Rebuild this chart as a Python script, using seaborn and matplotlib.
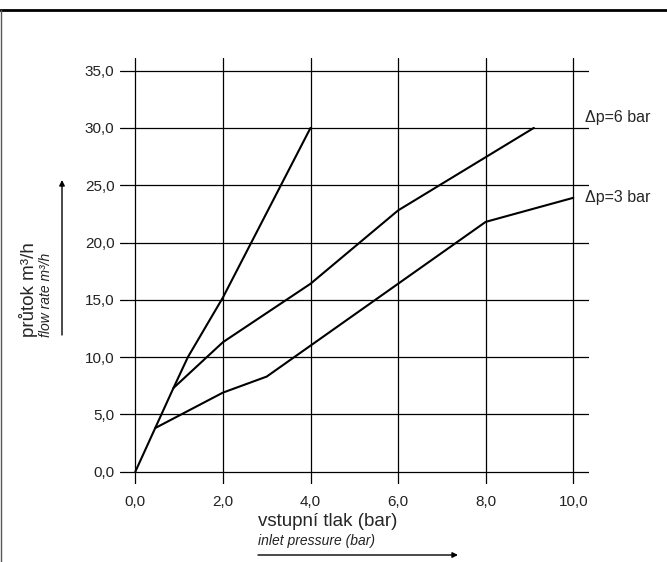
import numpy as np
import pandas as pd
import matplotlib
matplotlib.use('Agg')
import matplotlib.pyplot as plt
from matplotlib.lines import Line2D
import seaborn as sns

# data (inlet pressure in bar, flow rate in m3/h)
steep_p = [0.0, 0.87, 1.2, 2.0, 4.0]
steep_q = [0.0, 7.3, 10.0, 15.2, 30.0]
dp6_p = [0.87, 2.0, 4.0, 6.0, 9.1]
dp6_q = [7.3, 11.3, 16.4, 22.8, 30.0]
dp3_p = [0.45, 2.0, 3.0, 8.0, 10.0]
dp3_q = [3.8, 6.9, 8.3, 21.8, 23.9]
series_labels = ['Δp=6 bar', 'Δp=3 bar']
x_ticks = [0, 2, 4, 6, 8, 10]
y_ticks = [0, 5, 10, 15, 20, 25, 30, 35]

sns.set_style('white')
plt.rcParams['font.family'] = ['Liberation Sans Narrow', 'Liberation Sans', 'DejaVu Sans']

W, H = 667, 562
fig = plt.figure(figsize=(W / 100, H / 100), dpi=100)
ax = fig.add_axes([120 / W, 1 - 484.3 / H, (588.6 - 120) / W, (484.3 - 58) / H])

df = pd.concat([
    pd.DataFrame({'p': steep_p, 'q': steep_q, 'line': 'steep'}),
    pd.DataFrame({'p': dp6_p, 'q': dp6_q, 'line': 'dp6'}),
    pd.DataFrame({'p': dp3_p, 'q': dp3_q, 'line': 'dp3'}),
])
for name, grp in df.groupby('line', sort=False):
    sns.lineplot(data=grp, x='p', y='q', ax=ax, color='black', lw=1.5,
                 sort=False, estimator=None, legend=False)

ax.set_xlim(-0.35, 10.35)
ax.set_ylim(-1.1, 36.1)
ax.set_xticks(x_ticks)
ax.set_yticks(y_ticks)
ax.set_xticklabels([f'{v:.1f}'.replace('.', ',') for v in x_ticks])
ax.set_yticklabels([f'{v:.1f}'.replace('.', ',') for v in y_ticks])
ax.tick_params(length=0, labelsize=11, colors='#222222')
ax.tick_params(axis='x', pad=8)
ax.tick_params(axis='y', pad=4)
ax.grid(True, color='black', lw=0.9)
ax.set_axisbelow(True)
for s in ax.spines.values():
    s.set_visible(False)
ax.set_xlabel('')
ax.set_ylabel('')

# curve labels to the right of the plot
ax.text(10.27, 30.9, series_labels[0], fontsize=11.5, va='center', ha='left', clip_on=False)
ax.text(10.27, 23.9, series_labels[1], fontsize=11.5, va='center', ha='left', clip_on=False)

# axis titles (Czech + English) with arrows
fig.text(258 / W, 1 - 521 / H, 'vstupní tlak (bar)', fontsize=13.5, ha='left', va='center')
fig.text(258 / W, 1 - 541 / H, 'inlet pressure (bar)', fontsize=10, style='italic',
         ha='left', va='center', color='#222222')
fig.text(28 / W, 1 - 337 / H, 'průtok m³/h', fontsize=13.5, rotation=90, ha='center', va='bottom')
fig.text(46 / W, 1 - 337 / H, 'flow rate m³/h', fontsize=10, style='italic', rotation=90,
         ha='center', va='bottom', color='#222222')

arrow = dict(arrowstyle='-|>', color='black', lw=1, mutation_scale=8, shrinkA=0, shrinkB=0)
ax.annotate('', xy=(458 / W, 1 - 555 / H), xytext=(258 / W, 1 - 555 / H),
            xycoords='figure fraction', textcoords='figure fraction', arrowprops=arrow)
ax.annotate('', xy=(62 / W, 1 - 180 / H), xytext=(62 / W, 1 - 335 / H),
            xycoords='figure fraction', textcoords='figure fraction', arrowprops=arrow)

# frame lines at the top and left edge
fig.add_artist(Line2D([0, 1], [1 - 9.5 / H] * 2, lw=2, color='black'))
fig.add_artist(Line2D([1.5 / W] * 2, [0, 1 - 9.5 / H], lw=1, color='#555555'))

fig.savefig('out.png', dpi=100)
